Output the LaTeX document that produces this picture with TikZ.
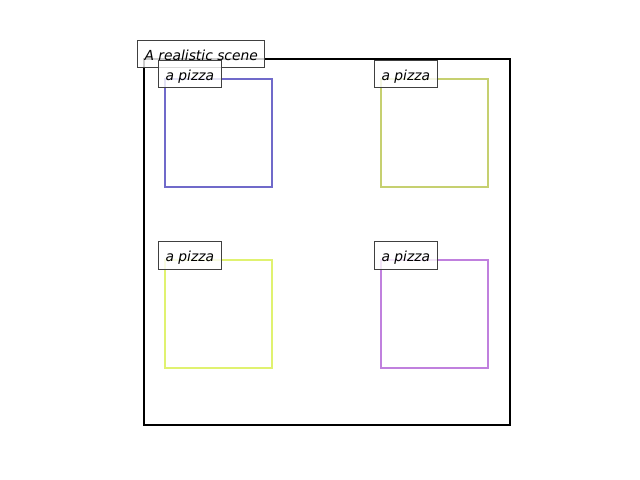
\documentclass[tikz,border=0pt]{standalone}
\usepackage{fontspec}
\setmainfont{DejaVu Sans}
\definecolor{pizzaA}{RGB}{112,106,202}
\definecolor{pizzaB}{RGB}{198,208,112}
\definecolor{pizzaC}{RGB}{224,242,112}
\definecolor{pizzaD}{RGB}{192,128,222}
\tikzset{tag/.style={draw=black!75, line width=1bp, fill=white, fill opacity=0.8, text opacity=1,
    anchor=base west, xshift=-7bp, yshift=-1.5bp, inner xsep=7bp, inner ysep=6bp,
    text height=13.5bp, text depth=1.5bp, font=\fontsize{13.9}{16}\selectfont\itshape}}
\begin{document}
\begin{tikzpicture}[x=1bp, y=-1bp]

    \useasboundingbox (0,0) rectangle (640,480);
    \draw[line width=2bp] (144,59) rectangle (510,425);
    \node[tag] (scene) at (144,59) {A realistic scene};

    \foreach \x/\y/\c in {165/79/pizzaA, 381/79/pizzaB, 165/260/pizzaC, 381/260/pizzaD} {
        \draw[\c, line width=2bp] (\x,\y) rectangle ++(107,108);
        \node[tag] (\c) at (\x,\y) {a pizza};
    }

\end{tikzpicture}
\end{document}
